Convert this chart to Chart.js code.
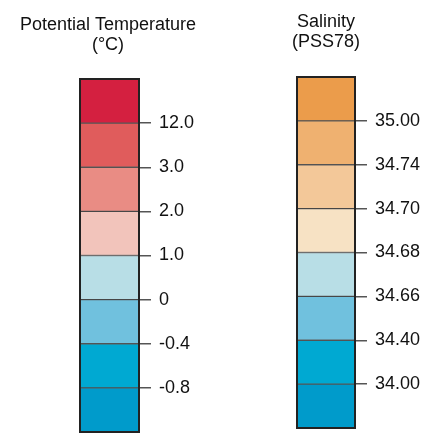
<!DOCTYPE html>
<html><head><meta charset="utf-8">
<script src="https://cdn.jsdelivr.net/npm/chart.js@4/dist/chart.umd.min.js"></script>
<style>
html,body{margin:0;padding:0;background:#fff;width:445px;height:443px;overflow:hidden}
.box{position:absolute;top:0;height:443px}
</style></head><body>
<div class="box" style="left:0;width:222px"><canvas id="c1" width="222" height="443"></canvas></div>
<div class="box" style="left:222px;width:223px"><canvas id="c2" width="223" height="443"></canvas></div>
<script>
// Band boundaries (bottom to top) and band colours (bottom to top)
const tempTitle = ['Potential Temperature', '(\u00B0C)'];
const tempTickLabels = ['-0.8', '-0.4', '0', '1.0', '2.0', '3.0', '12.0'];
const tempColors = ['#009bcb', '#00a9d2', '#70c1de', '#b8dee6', '#f2c4bb', '#e98c84', '#e05c5c', '#d42040'];

const salTitle = ['Salinity', '(PSS78)'];
const salTickLabels = ['34.00', '34.40', '34.66', '34.68', '34.70', '34.74', '35.00'];
const salColors = ['#009bcb', '#00a9d2', '#70c1de', '#b8dee6', '#f7e2c4', '#f3c899', '#efb170', '#eb9c4b'];

const bandValue = 1; // each band has equal height
const FONT = 'Liberation Sans, Arial, sans-serif';

const frame = {
  id: 'frame',
  afterDatasetsDraw(chart) {
    const a = chart.chartArea, ctx = chart.ctx;
    ctx.save();
    ctx.strokeStyle = '#222';
    ctx.lineWidth = 2;
    ctx.strokeRect(a.left, a.top, a.right - a.left, a.bottom - a.top);
    ctx.restore();
  }
};

// Title centred over the bar (chart area) rather than over the whole canvas
const barTitle = {
  id: 'barTitle',
  afterDraw(chart, args, opts) {
    const a = chart.chartArea, ctx = chart.ctx;
    const cx = (a.left + a.right) / 2 + (opts.dx || 0);
    ctx.save();
    ctx.fillStyle = '#111';
    ctx.font = '18px ' + FONT;
    ctx.textAlign = 'center';
    ctx.textBaseline = 'middle';
    opts.text.forEach((t, i) => ctx.fillText(t, cx, opts.top + i * opts.lineHeight));
    ctx.restore();
  }
};

function makeChart(id, title, tickLabels, colors, pad, axisWidth) {
  const datasets = colors.map(c => ({
    data: [bandValue],
    backgroundColor: c,
    borderColor: 'rgba(40,40,40,0.75)',
    borderWidth: 1,
    borderSkipped: false,
    barPercentage: 1,
    categoryPercentage: 1
  }));
  return new Chart(document.getElementById(id), {
    type: 'bar',
    data: { labels: [''], datasets },
    plugins: [frame, barTitle],
    options: {
      responsive: false,
      animation: false,
      layout: { padding: { left: pad.left, right: 0, top: pad.top, bottom: pad.bottom } },
      plugins: {
        legend: { display: false },
        tooltip: { enabled: false },
        title: { display: false },
        barTitle: { text: title, top: pad.titleY, lineHeight: 20, dx: pad.dx }
      },
      scales: {
        x: { display: false, stacked: true },
        y: {
          stacked: true,
          position: 'right',
          min: 0,
          max: colors.length,
          afterFit(s) { s.width = axisWidth; s.paddingTop = 0; s.paddingBottom = 0; },
          border: { display: false },
          grid: { drawOnChartArea: false, drawTicks: true, tickLength: 12, tickColor: '#555', lineWidth: 1.5 },
          ticks: {
            stepSize: 1,
            autoSkip: false,
            padding: 8,
            color: '#111',
            font: { family: FONT, size: 18 },
            callback: v => (v >= 1 && v <= tickLabels.length) ? tickLabels[v - 1] : null
          }
        }
      }
    }
  });
}

makeChart('c1', tempTitle, tempTickLabels, tempColors, { left: 80, top: 79, bottom: 11, titleY: 25, dx: -1.5 }, 83);
makeChart('c2', salTitle, salTickLabels, salColors, { left: 75, top: 77, bottom: 15, titleY: 22, dx: 0 }, 90);
</script>
</body></html>
